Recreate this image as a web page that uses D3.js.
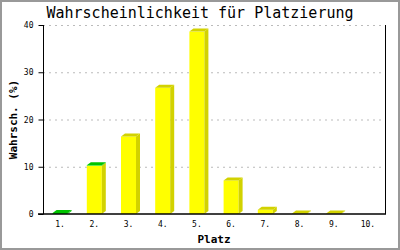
<!DOCTYPE html>
<html>
<head>
<meta charset="utf-8">
<title>Platzierung</title>
<script src="https://cdnjs.cloudflare.com/ajax/libs/d3/7.8.5/d3.min.js"></script>
<style>
  body { margin: 0; background: #fff; }
  text { font-family: "DejaVu Sans Mono", "Liberation Mono", monospace; }
</style>
</head>
<body>
<svg width="400" height="250"></svg>
<script>
// data
var places = ["1.", "2.", "3.", "4.", "5.", "6.", "7.", "8.", "9.", "10."];
var yellowVals = [0, 10.2, 16.4, 26.7, 38.6, 7.1, 0.9, 0.1, 0.1, 0];
var greenVals = [0.2, 0.1, 0, 0, 0, 0, 0, 0, 0, 0];
var yTicks = [0, 10, 20, 30, 40];

var svg = d3.select("svg");
// note: "top" is taken by window.top, so plot edges get own names
var pLeft = 43, pRight = 385, pTop = 25, pBottom = 214;
var barW = 15, dx = 4, dy = 3;

var x = d3.scaleBand().domain(places).range([pLeft, pRight]).padding(0);
var y = d3.scaleLinear().domain([0, 40]).range([pBottom, pTop]);

// frame
svg.append("rect").attr("x", 1).attr("y", 1).attr("width", 398).attr("height", 248)
  .attr("fill", "#fff").attr("stroke", "#999").attr("stroke-width", 2);

// grid
svg.append("g").selectAll("line").data(yTicks.filter(function(d){ return d > 0; }))
  .enter().append("line")
  .attr("x1", pLeft).attr("x2", pRight)
  .attr("y1", function(d){ return y(d) + 0.5; }).attr("y2", function(d){ return y(d) + 0.5; })
  .attr("stroke", "#bbb").style("stroke-dasharray", "2,4");

// bars, stacked: yellow then green on top
var series = [
  { vals: yellowVals, front: "#ffff00", dark: "#d2d200" },
  { vals: greenVals, front: "#00e800", dark: "#00c400" }
];
var g = svg.append("g");
places.forEach(function(p, i) {
  var x0 = x(p) + (x.bandwidth() - barW) / 2, x1 = x0 + barW;
  var base = 0, segs = [];
  series.forEach(function(s) {
    if (s.vals[i] > 0) { segs.push({ v0: base, v1: base + s.vals[i], s: s }); base += s.vals[i]; }
  });
  segs.forEach(function(sg, k) {
    var yb = y(sg.v0), yt = y(sg.v1);
    g.append("rect").attr("x", x0).attr("y", yt).attr("width", barW).attr("height", yb - yt)
      .attr("fill", sg.s.front);
    g.append("polygon").attr("points", [[x1, yt], [x1 + dx, yt - dy], [x1 + dx, yb - dy], [x1, yb]].join(" "))
      .attr("fill", sg.s.dark);
    if (k === segs.length - 1) {
      g.append("polygon").attr("points", [[x0, yt], [x0 + dx, yt - dy], [x1 + dx, yt - dy], [x1, yt]].join(" "))
        .attr("fill", sg.s.dark);
    }
  });
});

// axes
var yAxis = svg.append("g").attr("transform", "translate(" + (pLeft + 0.5) + ",0)")
  .call(d3.axisLeft(y).tickValues(yTicks).tickSize(5).tickPadding(5));
yAxis.select(".domain").attr("d", "M0," + pTop + "V" + pBottom).attr("stroke", "#000");
yAxis.selectAll("text").style("font-size", "8px").style("font-family", "DejaVu Sans Mono");

svg.append("line").attr("x1", pRight + 0.5).attr("x2", pRight + 0.5).attr("y1", pTop).attr("y2", pBottom)
  .attr("stroke", "#000");

var xAxis = svg.append("g").attr("transform", "translate(0," + pBottom + ")")
  .call(d3.axisBottom(x).tickSize(0).tickPadding(7));
xAxis.select(".domain").attr("d", "M" + (pLeft - 5) + ",0H" + (pRight + 1)).attr("stroke", "#000").attr("stroke-width", 1.6);
xAxis.selectAll("text").style("font-size", "8px").style("font-family", "DejaVu Sans Mono");

// titles
svg.append("text").attr("x", 200).attr("y", 18).attr("text-anchor", "middle")
  .style("font-size", "15px").text("Wahrscheinlichkeit für Platzierung");
svg.append("text").attr("x", (pLeft + pRight) / 2).attr("y", 243).attr("text-anchor", "middle")
  .style("font-size", "11px").style("font-weight", "bold").text("Platz");
svg.append("text").attr("transform", "translate(17," + (pTop + pBottom) / 2 + ") rotate(-90)")
  .attr("text-anchor", "middle").style("font-size", "11px").style("font-weight", "bold")
  .text("Wahrsch. (%)");
</script>
</body>
</html>
